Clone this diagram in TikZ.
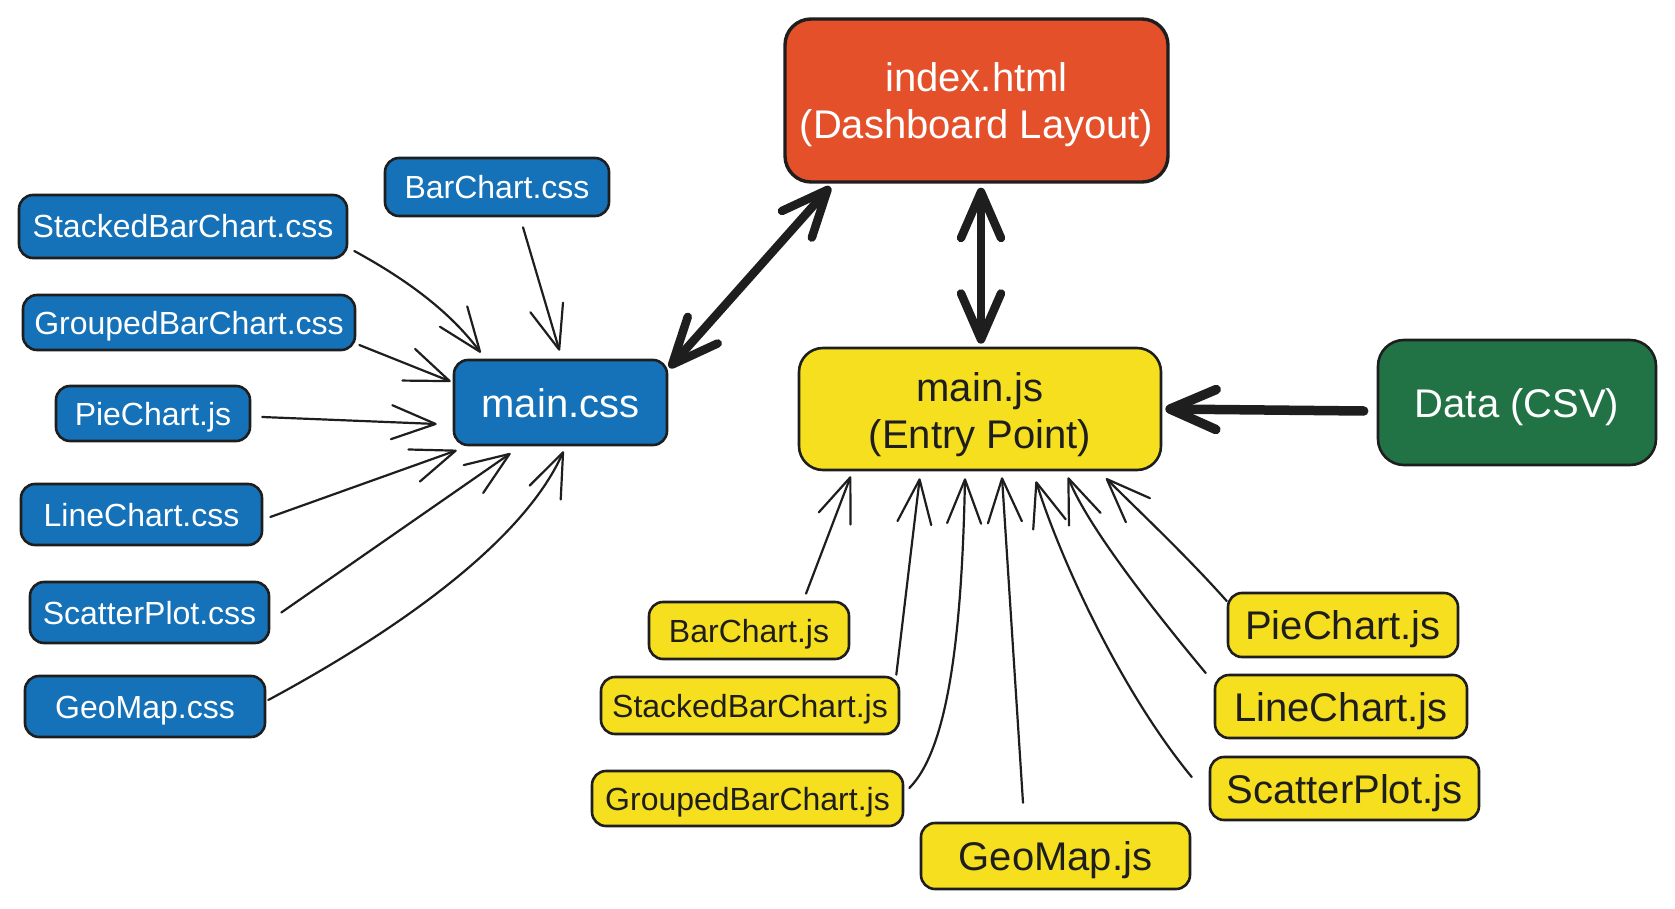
\documentclass[tikz,border=0pt]{standalone}
\usepackage{fontspec}
\setmainfont{Liberation Sans}
\usetikzlibrary{arrows.meta,calc}
\definecolor{ink}{HTML}{1E1E1E}
\definecolor{htmlc}{HTML}{E4502A}
\definecolor{cssc}{HTML}{1672B8}
\definecolor{jsc}{HTML}{F6DF1F}
\definecolor{datac}{HTML}{217346}
\begin{document}
\begin{tikzpicture}[x=1pt,y=-1pt,
  box/.style={draw=ink, line width=2.6pt, rounded corners=14pt, inner sep=0pt, align=center},
  bigtext/.style={font=\fontsize{40}{47}\selectfont, text height=29pt, text depth=0pt},
  twoline/.style={font=\fontsize{40}{47}\selectfont},
  smalltext/.style={font=\fontsize{32}{38}\selectfont, text height=23pt, text depth=0pt},
  cssbox/.style={box, fill=cssc, text=white},
  jsbox/.style={box, fill=jsc, text=ink},
  htmlbox/.style={box, fill=htmlc, text=white, rounded corners=26pt, line width=3.4pt},
  databox/.style={box, fill=datac, text=white, rounded corners=26pt},
  thinarrow/.style={draw=ink, line width=2.2pt, line cap=round,
    -{Straight Barb[length=44pt,width=34pt,line width=2.2pt,round]}},
  thickarrow/.style={draw=ink, line width=8.5pt, line cap=round,
    {Straight Barb[length=46pt,width=40pt,round]}-{Straight Barb[length=46pt,width=40pt,round]}},
  thickone/.style={draw=ink, line width=9.5pt, line cap=round,
    -{Straight Barb[length=46pt,width=40pt,round]}}
]
\useasboundingbox (0,0) rectangle (1675,909);

% main hubs
\node[htmlbox, twoline, text height=85pt, minimum width=383pt, minimum height=163pt] (index) at (976.5,100.5) {index.html\\(Dashboard Layout)};
\node[cssbox, bigtext, minimum width=213pt, minimum height=85pt] (mcss) at (560.5,402.5) {main.css};
\node[jsbox, twoline, text height=88pt, minimum width=362pt, minimum height=122pt, rounded corners=24pt] (mjs) at (980,409) {main.js\\(Entry Point)};
\node[databox, bigtext, minimum width=278pt, minimum height=125pt] (data) at (1517,402.5) {Data (CSV)};

% css files
\node[cssbox, smalltext, minimum width=224pt, minimum height=58pt] (bcss) at (497,187) {BarChart.css};
\node[cssbox, smalltext, minimum width=328pt, minimum height=63pt] (sbcss) at (183,226.5) {StackedBarChart.css};
\node[cssbox, smalltext, minimum width=332pt, minimum height=55pt] (gbcss) at (189,322.5) {GroupedBarChart.css};
\node[cssbox, smalltext, minimum width=194pt, minimum height=55pt] (pcss) at (153,413.5) {PieChart.js};
\node[cssbox, smalltext, minimum width=241pt, minimum height=61pt] (lcss) at (141.5,514.5) {LineChart.css};
\node[cssbox, smalltext, minimum width=239pt, minimum height=61pt] (spcss) at (149.5,612.5) {ScatterPlot.css};
\node[cssbox, smalltext, minimum width=240pt, minimum height=61pt] (gmcss) at (145,706.5) {GeoMap.css};

% js files
\node[jsbox, smalltext, minimum width=200pt, minimum height=57pt] (bjs) at (749,630.5) {BarChart.js};
\node[jsbox, smalltext, minimum width=298pt, minimum height=57pt] (sbjs) at (750,705.5) {StackedBarChart.js};
\node[jsbox, smalltext, minimum width=311pt, minimum height=55pt] (gbjs) at (747.5,798.5) {GroupedBarChart.js};
\node[jsbox, bigtext, minimum width=269pt, minimum height=66pt] (gmjs) at (1055.5,856) {GeoMap.js};
\node[jsbox, bigtext, minimum width=230pt, minimum height=64pt] (pjs) at (1343,625) {PieChart.js};
\node[jsbox, bigtext, minimum width=252pt, minimum height=63pt] (ljs) at (1341,706.5) {LineChart.js};
\node[jsbox, bigtext, minimum width=269pt, minimum height=63pt] (spjs) at (1344.5,788.5) {ScatterPlot.js};

% thick connectors
\draw[thickarrow] ($(mcss.north east)+(1,9)$) -- ($(index.south west)+(47,3)$);
\draw[thickarrow] ($(index.south)+(4.5,4)$) -- ($(mjs.north)+(1,-3)$);
\draw[thickone] ($(data.west)+(-13,8.5)$) -- ($(mjs.east)+(3,0)$);

% css -> main.css
\draw[thinarrow] ($(bcss.south)+(26,10)$) -- ($(mcss.north)+(-1,-8)$);
\draw[thinarrow] ($(sbcss.east)+(6,24.5)$) .. controls +(55,30) and +(-30,-40) .. ($(mcss.north west)+(28,-6)$);
\draw[thinarrow] ($(gbcss.east)+(3,22.5)$) -- ($(mcss.west)+(-2,-21)$);
\draw[thinarrow] ($(pcss.east)+(11,3.5)$) -- ($(mcss.west)+(-16,21.5)$);
\draw[thinarrow] ($(lcss.east)+(7,2.5)$) -- ($(mcss.south west)+(4,4)$);
\draw[thinarrow] ($(spcss.east)+(11,0)$) -- ($(mcss.south)+(-50,7)$);
\draw[thinarrow] ($(gmcss.east)+(2,-6.5)$) .. controls +(130,-70) and +(-40,90) .. ($(mcss.south)+(3,5)$);

% js -> main.js
\draw[thinarrow] ($(bjs.north)+(57,-7)$) -- ($(mjs.south west)+(53,5)$);
\draw[thinarrow] ($(sbjs.north east)+(-4,-1)$) -- ($(mjs.south west)+(122,7)$);
\draw[thinarrow] ($(gbjs.east)+(5,-10.5)$) .. controls +(40,-40) and +(-3,150) .. ($(mjs.south)+(-15,7)$);
\draw[thinarrow] ($(gmjs.north)+(-32.5,-19)$) -- ($(mjs.south)+(22,6)$);
\draw[thinarrow] ($(spjs.west)+(-17,-11.5)$) .. controls +(-70,-85) and +(25,80) .. ($(mjs.south)+(56,10)$);
\draw[thinarrow] ($(ljs.west)+(-8,-33.5)$) .. controls +(-50,-60) and +(20,50) .. ($(mjs.south)+(88,6)$);
\draw[thinarrow] ($(pjs.west)+(0,-24)$) .. controls +(-40,-45) and +(30,30) .. ($(mjs.south)+(126,7)$);
\end{tikzpicture}
\end{document}
